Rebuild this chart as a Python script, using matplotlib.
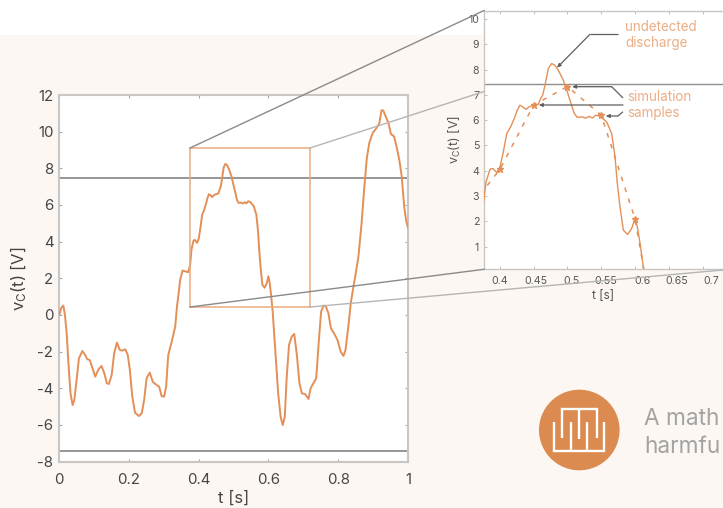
import matplotlib
matplotlib.use("Agg")
import matplotlib.pyplot as plt
from matplotlib.patches import Rectangle, Circle
from matplotlib.transforms import ScaledTranslation

plt.rcParams['font.family'] = ['Inter', 'DejaVu Sans']
plt.rcParams['mathtext.default'] = 'regular'

# curve
t = [0, .002, .006, .0124, .017, .022, .027, .033, .039, .044, .051, .057, .067, .075, .081, .088,
     .096, .104, .113, .122, .130, .137, .143, .151, .158, .166, .174, .181, .190, .197, .203, .210,
     .218, .229, .237, .244, .251, .260, .269, .280, .287, .294, .301, .307, .313, .323, .333, .338,
     .344, .347, .354, .3705,
     .376, .3796, .3855, .3895, .3954, .4003, .4052, .4102, .4161, .4214, .4258, .4298, .4338, .4387,
     .4436, .4495, .4569, .4604, .4634, .4668, .4717, .4767, .4816, .4865, .4939, .4998, .5063, .5102,
     .5146, .522, .527, .532, .537, .542, .548, .5581, .5655, .5704, .5738, .5778, .5827, .589, .5951,
     .600, .6034, .6074, .6122,
     .619, .628, .635, .641, .647, .652, .659, .667, .674, .681,
     .689, .696, .705, .715, .721, .729, .737, .744, .751, .758, .764, .772, .779, .788, .798, .807,
     .815, .821, .829, .836, .843, .848, .858, .867, .875, .882, .889, .899, .910, .918, .924, .929,
     .936, .944, .951, .960, .967, .975, .982, .989, .995, 1.0]
v = [0, .05, .37, .51, 0, -1.0, -2.64, -4.28, -4.92, -4.65, -3.46, -2.37, -1.97, -2.19, -2.42, -2.46,
     -2.91, -3.37, -2.97, -2.79, -3.19, -3.73, -3.77, -3.28, -2.1, -1.51, -1.91, -1.95, -1.88, -2.19, -3.0, -4.46,
     -5.34, -5.52, -5.37, -4.64, -3.46, -3.15, -3.66, -3.83, -3.92, -4.43, -4.46, -3.92, -2.19, -1.46, -.64, .45,
     1.37, 1.9, 2.42, 2.33,
     2.77, 3.56, 4.06, 4.09, 3.93, 4.15, 4.75, 5.47, 5.74, 6.07, 6.4, 6.59, 6.53, 6.43,
     6.53, 6.59, 6.63, 6.86, 6.99, 7.38, 8.04, 8.24, 8.17, 7.98, 7.58, 7.12, 6.59, 6.26,
     6.11, 6.13, 6.08, 6.15, 6.09, 6.2, 6.16, 5.93, 5.47, 4.55, 3.5, 2.57, 1.65, 1.48, 1.72,
     2.11, 1.78, 1.14, .2,
     -1.73, -4.28, -5.56, -6.01, -5.56, -3.55, -1.64, -1.18, -1.04, -2.09,
     -3.73, -4.28, -4.32, -4.59, -4.0, -3.73, -3.46, -1.55, .18, .51, .49, .09, -.73, -1.0, -1.37, -2.0,
     -2.24, -1.91, -.64, .64, 1.46, 2.0, 3.19, 5.0, 7.0, 8.56, 9.38, 9.93, 10.2, 10.47, 11.16, 11.16,
     10.84, 10.47, 9.87, 9.74, 9.2, 8.47, 7.56, 5.92, 5.1, 4.77]

# simulation samples
t_s = [.35, .40, .45, .50, .55, .60, .65]
v_s = [2.35, 4.05, 6.6, 7.33, 6.2, 2.1, -5.6]

threshold = 7.45

x_ticks = [0, .2, .4, .6, .8, 1]
x_labels = ['0', '0.2', '0.4', '0.6', '0.8', '1']
y_ticks = [-8, -6, -4, -2, 0, 2, 4, 6, 8, 10, 12]
y_labels = ['-8', '-6', '-4', '-2', '0', '2', '4', '6', '8', '10', '12']

zoom_x_ticks = [.4, .45, .5, .55, .6, .65, .7]
zoom_x_labels = ['0.4', '0.45', '0.5', '0.55', '0.6', '0.65', '0.7']
zoom_y_ticks = [1, 2, 3, 4, 5, 6, 7, 8, 9, 10]
# tick labels in the inset drift a bit to the right of their ticks
zoom_label_shift = [0, 2.3, 3.7, 5, 7, 7.7, 8.3]

W, H = 723, 508
ORANGE = '#E48F57'
BOX = '#E9A97F'
ORANGE_TXT = '#EBAE85'
GREY = '#8E8E8E'
DARK = '#5E5E5E'
SPINE = '#C9C6C4'
TXT = '#454545'
CREAM = '#FCF7F2'


def box(l, t_, r, b):
    return [l / W, 1 - b / H, (r - l) / W, (b - t_) / H]


fig = plt.figure(figsize=(W / 100, H / 100), dpi=100, facecolor='white')
fig.patches.append(Rectangle((0, 0), 1, 1 - 35 / H, transform=fig.transFigure, fc=CREAM, ec='none', zorder=-5))

ax = fig.add_axes(box(59, 95, 408, 461.5), facecolor='white')
ax.plot(t, v, color=ORANGE, lw=1.4, zorder=3, solid_joinstyle='round')
ax.axhline(threshold, color=GREY, lw=1.3, zorder=2)
ax.axhline(-threshold, color=GREY, lw=1.3, zorder=2)
ax.add_patch(Rectangle((.375, .44), .344, 8.66, fc='none', ec=BOX, lw=1.1, zorder=4))
ax.set_xlim(0, 1)
ax.set_ylim(-8, 12)
ax.set_xticks(x_ticks, x_labels)
ax.set_yticks(y_ticks, y_labels)
ax.tick_params(direction='in', length=2.5, width=.8, color='#A5A5A5', top=True, right=True,
               labelsize=10.8, labelcolor=TXT, pad=4)
ax.tick_params(axis='x', pad=8)
for s in ax.spines.values():
    s.set_color(SPINE)
    s.set_linewidth(1.5)
ax.set_xlabel('t [s]', fontsize=12, color=TXT, labelpad=3)
ax.set_ylabel('v$_C$(t) [V]', fontsize=12, color=TXT, labelpad=6)

ins = fig.add_axes(box(484, 10.5, 723, 269.3), facecolor='white')
ins.plot(t, v, color=ORANGE, lw=1.0, zorder=3, solid_joinstyle='round')
ins.plot(t_s, v_s, color=ORANGE, lw=1.1, ls=(0, (3, 4.5)), zorder=3)
ins.plot(t_s, v_s, color=ORANGE, ls='none', marker='*', ms=5, zorder=3)
ins.axhline(threshold, color=GREY, lw=1.0, zorder=2)
ins.set_xlim(.3766, .3766 + 239 / 676)
ins.set_ylim(.1, 10.34)
ins.set_xticks(zoom_x_ticks, zoom_x_labels)
ins.set_yticks(zoom_y_ticks)
ins.tick_params(direction='in', length=2, width=.6, color='#B5B5B5', top=True,
                labelsize=7.6, labelcolor='#555555', pad=3.5)
ins.tick_params(axis='x', pad=5)
for lab, dx in zip(ins.get_xticklabels(), zoom_label_shift):
    lab.set_transform(lab.get_transform() + ScaledTranslation(dx / 100, 0, fig.dpi_scale_trans))
ins.spines['right'].set_visible(False)
for s in ['left', 'top', 'bottom']:
    ins.spines[s].set_color(SPINE)
    ins.spines[s].set_linewidth(1.0)
ins.set_xlabel('t [s]', fontsize=8.5, color='#555555', labelpad=3)
ins.set_ylabel('v$_C$(t) [V]', fontsize=9, color='#555555', labelpad=4)

# overlay in pixels for connectors, leaders and the logo
ov = fig.add_axes([0, 0, 1, 1], facecolor='none', zorder=10)
ov.set_xlim(0, W)
ov.set_ylim(H, 0)
ov.axis('off')

ov.plot([190, 484], [148, 10.5], color='#8A8A8A', lw=1.0)
ov.plot([190, 484], [307, 269.3], color='#8A8A8A', lw=1.0)
ov.plot([310, 484], [148, 91.5], color='#B5B5B5', lw=1.0)
ov.plot([310, 723], [307, 270], color='#B5B5B5', lw=1.0)


def leader(xs, ys):
    ov.plot(xs[:-1], ys[:-1], color=DARK, lw=.9, solid_capstyle='butt')
    ov.annotate('', xy=(xs[-1], ys[-1]), xytext=(xs[-2], ys[-2]),
                arrowprops=dict(arrowstyle='-|>,head_length=.22,head_width=.1', color=DARK, lw=.9,
                                shrinkA=0, shrinkB=0))


leader([618, 590, 557], [34.3, 34.3, 67.7])
leader([623, 611.7, 572], [98, 86.7, 86.7])
leader([623, 538.7], [105, 105])
leader([623, 618, 605.7], [111.7, 116, 116])

for txt, x, y in [('undetected', 625.5, 27), ('discharge', 625.5, 43),
                  ('simulation', 627, 97), ('samples', 627, 113.5)]:
    ov.text(x, y, txt, fontsize=9.7, color=ORANGE_TXT, ha='left', va='center')

# logo
ov.add_patch(Circle((579.3, 430), 40.3, fc='#DB8B50', ec='none'))
logo_lines = [
    ([554.3, 554.3, 604.3, 604.3], [421.7, 451, 451, 421.7]),
    ([562.3, 562.3, 597.3, 597.3], [438.3, 409.3, 409.3, 438.3]),
    ([570.7, 570.7], [421.7, 451]),
    ([579, 579], [409.3, 439]),
    ([587.3, 587.3], [421.7, 451]),
]
for xs, ys in logo_lines:
    ov.plot(xs, ys, color='white', lw=1.7, solid_joinstyle='miter', solid_capstyle='butt')

ov.text(644, 425, 'A math', fontsize=16.3, color='#A3A3A3', ha='left', va='baseline')
ov.text(644, 452.7, 'harmfu', fontsize=16.3, color='#A3A3A3', ha='left', va='baseline')

fig.savefig('out.png', dpi=100, facecolor=fig.get_facecolor())
